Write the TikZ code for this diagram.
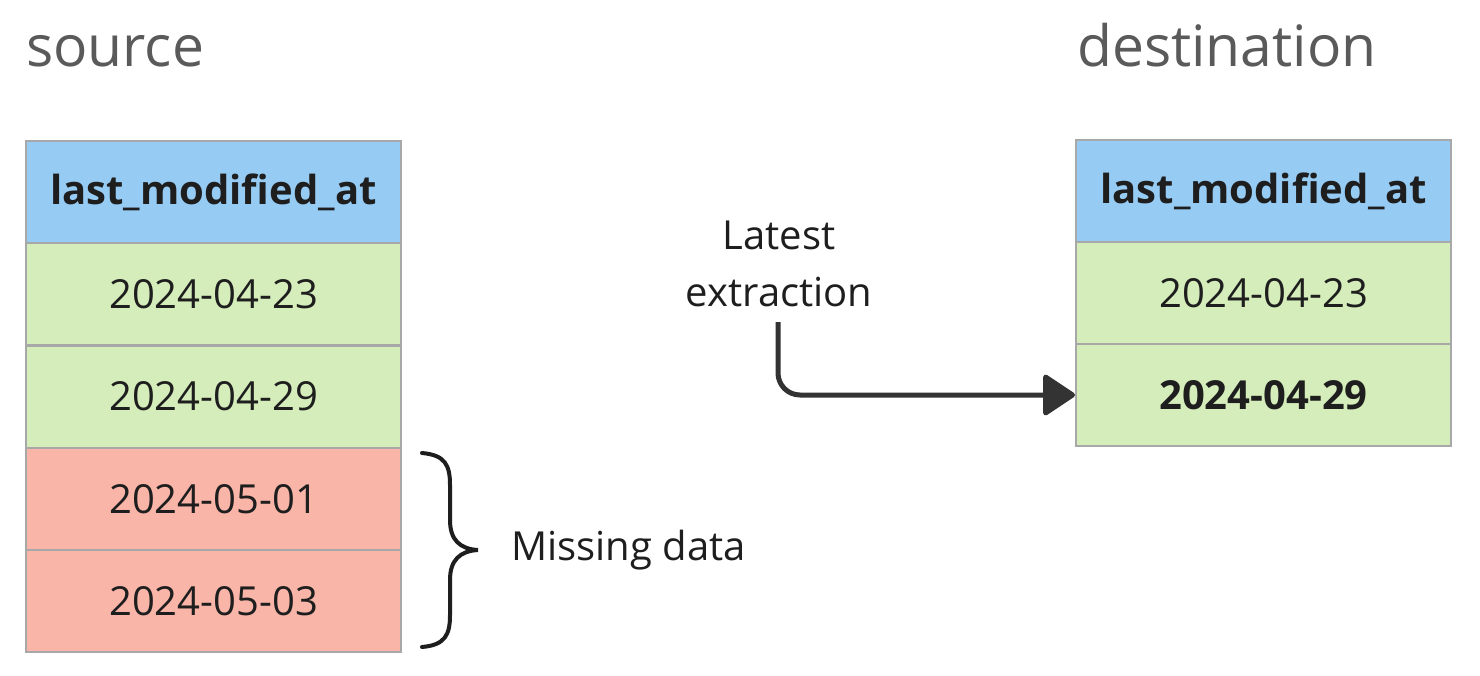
\documentclass[tikz,border=0pt]{standalone}
\usepackage{fontspec}
\setmainfont{Open Sans}
\usetikzlibrary{arrows.meta}
\definecolor{hdr}{HTML}{96CBF4}
\definecolor{okg}{HTML}{D5EDBB}
\definecolor{bad}{HTML}{F9B5A8}
\definecolor{edge}{HTML}{A8A8A8}
\definecolor{ttl}{HTML}{5A5A5A}
\definecolor{ink}{HTML}{1E1E1E}
\definecolor{arr}{HTML}{333333}
\tikzset{
  cell/.style={draw=edge, line width=2pt, minimum width=375pt, minimum height=102pt, inner sep=0pt, text=ink, font=\fontsize{40}{48}\selectfont},
  title/.style={anchor=base west, text=ttl, inner sep=0pt, font=\fontsize{57}{64}\selectfont},
  lbl/.style={text=ink, align=center, inner sep=0pt, font=\fontsize{40}{57}\selectfont},
  conn/.style={draw=arr, line width=5pt, rounded corners=22pt, -{Triangle[length=34pt,width=44pt,round]}},
  bracestyle/.style={draw=ink, line width=4pt, line cap=round}
}
\begin{document}
\begin{tikzpicture}[x=1pt,y=-1pt]
\path[use as bounding box, fill=white] (0,0) rectangle (1480,675);
\node[title] (src) at (26,66) {source};
\node[title] (dst) at (1077,66) {destination};
% source table
\node[cell, fill=hdr] (s0) at (213.5,192) {\bfseries last\_modified\_at};
\node[cell, fill=okg] (s1) at (213.5,294) {2024-04-23};
\node[cell, fill=okg] (s2) at (213.5,396.5) {2024-04-29};
\node[cell, fill=bad] (s3) at (213.5,499) {2024-05-01};
\node[cell, fill=bad] (s4) at (213.5,601) {2024-05-03};
% destination table
\node[cell, fill=hdr] (d0) at (1263.5,191) {\bfseries last\_modified\_at};
\node[cell, fill=okg] (d1) at (1263.5,293) {2024-04-23};
\node[cell, fill=okg] (d2) at (1263.5,395) {\bfseries 2024-04-29};
% label and arrow
\node[lbl] (lab) at (779,264) {Latest\\extraction};
\coordinate (start) at (778,322);
\draw[conn] (start) |- (d2.west);
% brace
\coordinate (b0) at (422,453);
\coordinate (b1) at (422,647);
\node[lbl, anchor=west] (miss) at (511,550) {Missing data};
\draw[bracestyle] (b0) .. controls (445,455) and (450,465) .. (450,485)
  -- (450,520) .. controls (450,540) and (460,549) .. (478,550)
  .. controls (460,551) and (450,560) .. (450,580)
  -- (450,615) .. controls (450,635) and (445,645) .. (b1);
\end{tikzpicture}
\end{document}
